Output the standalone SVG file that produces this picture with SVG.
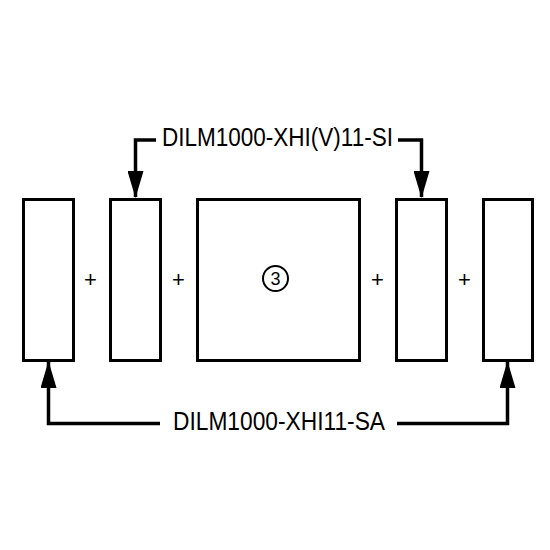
<svg xmlns="http://www.w3.org/2000/svg" width="550" height="550" viewBox="0 0 550 550">
<style>
.box{fill:#fff;stroke:#000;stroke-width:3}
.conn{fill:none;stroke:#000;stroke-width:3.5}
.lbl{font-family:"Liberation Sans",Arial,sans-serif;font-size:25px;fill:#000}
.plus{font-family:"Liberation Sans",Arial,sans-serif;font-size:22px;fill:#000;text-anchor:middle}
.num{font-family:"Liberation Sans",Arial,sans-serif;font-size:18px;fill:#000;text-anchor:middle}
</style>
<defs>
<marker id="ah" markerUnits="userSpaceOnUse" markerWidth="27" markerHeight="16" refX="26" refY="8" viewBox="0 0 27 16" orient="auto">
<path d="M0,0 L27,8 L0,16 Z" fill="#000"/>
</marker>
</defs>
<rect width="550" height="550" fill="#fff"/>
<g id="box1"><rect class="box" x="23.5" y="199.5" width="50" height="161"/></g>
<g id="box2"><rect class="box" x="110.5" y="199.5" width="50" height="161"/></g>
<g id="box3"><rect class="box" x="197.5" y="199.5" width="162" height="161"/>
<circle cx="275.5" cy="278.5" r="12.5" fill="none" stroke="#000" stroke-width="2"/>
<text class="num" x="275.5" y="285">3</text></g>
<g id="box4"><rect class="box" x="396.5" y="199.5" width="50" height="161"/></g>
<g id="box5"><rect class="box" x="483.5" y="199.5" width="49" height="161"/></g>
<g id="plus">
<text class="plus" x="90.5" y="287">+</text>
<text class="plus" x="178.5" y="287">+</text>
<text class="plus" x="377.5" y="287">+</text>
<text class="plus" x="464.5" y="287">+</text>
</g>
<g id="connectors">
<path class="conn" d="M156,140 H135.5 V197" marker-end="url(#ah)"/>
<path class="conn" d="M398,140 H421.5 V197" marker-end="url(#ah)"/>
<path class="conn" d="M160,423.5 H48.5 V362" marker-end="url(#ah)"/>
<path class="conn" d="M397,423.5 H507.5 V362" marker-end="url(#ah)"/>
</g>
<g id="labels">
<text class="lbl" x="162" y="146" textLength="231" lengthAdjust="spacingAndGlyphs">DILM1000-XHI(V)11-SI</text>
<text class="lbl" x="173" y="430" textLength="212" lengthAdjust="spacingAndGlyphs">DILM1000-XHI11-SA</text>
</g>
</svg>
